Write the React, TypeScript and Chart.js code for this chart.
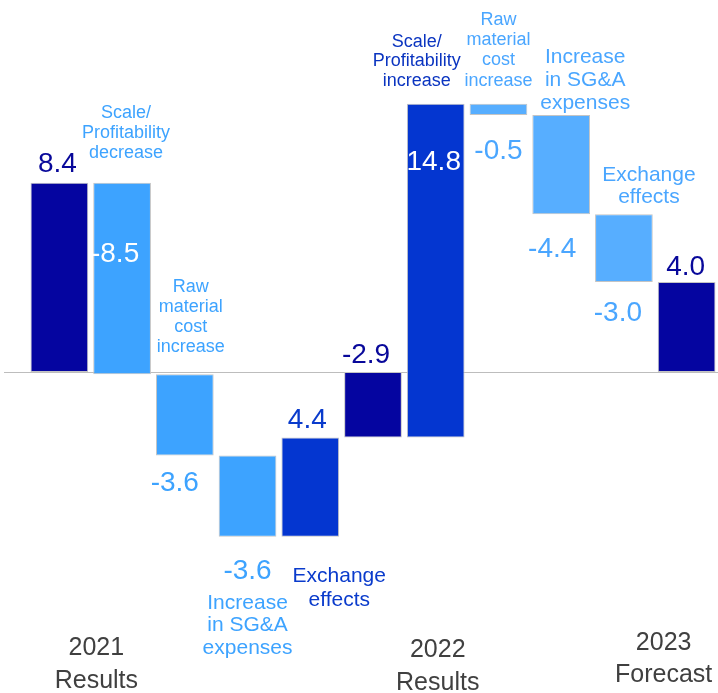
import React, { useEffect, useRef } from 'react';
import { Chart, registerables } from 'chart.js';

Chart.register(...registerables);

// ---- Data ----
const categories = [
  '2021 Results',
  'Scale/Profitability decrease',
  'Raw material cost increase',
  'Increase in SG&A expenses',
  'Exchange effects',
  '2022 Results',
  'Scale/Profitability increase',
  'Raw material cost increase',
  'Increase in SG&A expenses',
  'Exchange effects',
  '2023 Forecast',
];
const values = [8.4, -8.5, -3.6, -3.6, 4.4, -2.9, 14.8, -0.5, -4.4, -3.0, 4.0];
const isTotal = [true, false, false, false, false, true, false, false, false, false, true];
const valueLabels = ['8.4', '-8.5', '-3.6', '-3.6', '4.4', '-2.9', '14.8', '-0.5', '-4.4', '-3.0', '4.0'];
const annotationLines: string[][] = [
  [],
  ['Scale/', 'Profitability', 'decrease'],
  ['Raw', 'material', 'cost', 'increase'],
  ['Increase', 'in SG&A', 'expenses'],
  ['Exchange', 'effects'],
  [],
  ['Scale/', 'Profitability', 'increase'],
  ['Raw', 'material', 'cost', 'increase'],
  ['Increase', 'in SG&A', 'expenses'],
  ['Exchange', 'effects'],
  [],
];
const axisLabels = [
  ['2021', 'Results'],
  ['2022', 'Results'],
  ['2023', 'Forecast'],
];
const axisLabelIndex = [0, 6, 10];

function buildRanges(): number[][] {
  let running = 0;
  return values.map((v, i) => {
    if (isTotal[i]) {
      running = v;
      return [0, v];
    }
    const start = running;
    running = Math.round((running + v) * 100) / 100;
    return [start, running];
  });
}

// ---- Styles ----
const NAVY = '#0505A0';
const MID = '#0436D0';
const LIGHT1 = '#3DA3FF';
const LIGHT2 = '#57AEFF';
const FONT = '"Liberation Sans", Arial, Helvetica, sans-serif';

const barColors = [NAVY, LIGHT1, LIGHT1, LIGHT1, MID, NAVY, MID, LIGHT2, LIGHT2, LIGHT2, NAVY];

// value label layout: anchor edge, baseline offset, x offset, colour
const valueLayout = [
  { edge: 'top', dy: -11, dx: -2, color: '#08089A' },
  { edge: 'top', dy: 79, dx: -7, color: '#FFFFFF' },
  { edge: 'bottom', dy: 35, dx: -10, color: LIGHT1 },
  { edge: 'bottom', dy: 42, dx: 0, color: LIGHT1 },
  { edge: 'top', dy: -9, dx: -3, color: '#0A3BCC' },
  { edge: 'top', dy: -9, dx: -7, color: '#08089A' },
  { edge: 'top', dy: 66, dx: -2, color: '#FFFFFF' },
  { edge: 'bottom', dy: 44, dx: 0, color: '#4AA6FF' },
  { edge: 'bottom', dy: 43, dx: -9, color: '#4AA6FF' },
  { edge: 'bottom', dy: 39, dx: -6, color: '#4AA6FF' },
  { edge: 'top', dy: -7, dx: -1, color: '#08089A' },
];

// annotation layout: edge, offset of the line nearest the bar, line height, size, dx, colour
const annLayout: any[] = [
  null,
  { edge: 'top', dy: -30, lh: 20, size: 18, dx: 4, color: LIGHT1 },
  { edge: 'top', dy: -27, lh: 20, size: 18, dx: 6, color: LIGHT1 },
  { edge: 'bottom', dy: 66, lh: 22.5, size: 21, dx: 0, color: LIGHT1 },
  { edge: 'bottom', dy: 39, lh: 24, size: 21, dx: 29, color: '#0A3BCC' },
  null,
  { edge: 'top', dy: -23, lh: 19.5, size: 18, dx: -19, color: '#0A34C0' },
  { edge: 'top', dy: -23, lh: 20.3, size: 18, dx: 0, color: '#4AA6FF' },
  { edge: 'top', dy: -12, lh: 23, size: 21, dx: 24, color: '#4AA6FF' },
  { edge: 'top', dy: -17, lh: 22, size: 21, dx: 25, color: '#4AA6FF' },
  null,
];

const axisLayout = [
  { dx: 37, b1: -38, b2: -5 },
  { dx: 2, b1: -36, b2: -3 },
  { dx: -23, b1: -43, b2: -11 },
];

const textPlugin = {
  id: 'waterfallText',
  beforeDatasetsDraw(chart: any) {
    const { ctx, chartArea, scales } = chart;
    const y0 = Math.round(scales.y.getPixelForValue(0)) + 0.5;
    ctx.save();
    ctx.strokeStyle = '#BDBDBD';
    ctx.lineWidth = 1;
    ctx.beginPath();
    ctx.moveTo(chartArea.left - 24, y0);
    ctx.lineTo(chartArea.right, y0);
    ctx.stroke();
    ctx.restore();
  },
  afterDatasetsDraw(chart: any) {
    const { ctx, chartArea, scales } = chart;
    const meta = chart.getDatasetMeta(0);
    ctx.save();
    meta.data.forEach((bar: any, i: number) => {
      const top = Math.min(bar.y, bar.base);
      const bottom = Math.max(bar.y, bar.base);
      // value labels
      const vl = valueLayout[i];
      ctx.font = `28px ${FONT}`;
      ctx.fillStyle = vl.color;
      ctx.textAlign = 'center';
      ctx.textBaseline = 'alphabetic';
      const ref = vl.edge === 'top' ? top : bottom;
      ctx.fillText(valueLabels[i], bar.x + vl.dx, ref + vl.dy);
      // annotations
      const al = annLayout[i];
      const lines = annotationLines[i];
      if (al && lines.length) {
        ctx.font = `${al.size}px ${FONT}`;
        ctx.fillStyle = al.color;
        ctx.textBaseline = 'middle';
        if (al.edge === 'top') {
          const last = top + al.dy;
          lines.forEach((ln, k) => {
            ctx.fillText(ln, bar.x + al.dx, last - (lines.length - 1 - k) * al.lh);
          });
        } else {
          const first = bottom + al.dy;
          lines.forEach((ln, k) => {
            ctx.fillText(ln, bar.x + al.dx, first + k * al.lh);
          });
        }
      }
    });
    // category axis labels
    ctx.font = `25px ${FONT}`;
    ctx.fillStyle = '#404040';
    ctx.textAlign = 'center';
    ctx.textBaseline = 'alphabetic';
    axisLabels.forEach((lbl, j) => {
      const lay = axisLayout[j];
      const x = scales.x.getPixelForValue(axisLabelIndex[j]) + lay.dx;
      ctx.fillText(lbl[0], x, chartArea.bottom + lay.b1);
      ctx.fillText(lbl[1], x, chartArea.bottom + lay.b2);
    });
    ctx.restore();
  },
};

export default function App() {
  const canvasRef = useRef<HTMLCanvasElement | null>(null);

  useEffect(() => {
    if (!canvasRef.current) return;
    const chart = new Chart(canvasRef.current, {
      type: 'bar',
      data: {
        labels: categories,
        datasets: [
          {
            data: buildRanges() as any,
            backgroundColor: barColors,
            borderColor: '#C4C4C4',
            borderWidth: 1,
            borderSkipped: false,
            barPercentage: 0.92,
            categoryPercentage: 1,
          },
        ],
      },
      options: {
        responsive: false,
        animation: false,
        devicePixelRatio: 1,
        layout: { padding: { left: 28, right: 0, top: 0, bottom: 0 } },
        plugins: {
          legend: { display: false },
          tooltip: { enabled: false },
        },
        scales: {
          x: { display: false, offset: true },
          y: { display: false, min: -14.23, max: 16.5 },
        },
      },
      plugins: [textPlugin],
    });
    return () => chart.destroy();
  }, []);

  return (
    <div style={{ position: 'absolute', left: 0, top: 0, width: 718, height: 693, background: '#fff' }}>
      <canvas ref={canvasRef} width={718} height={693} style={{ display: 'block' }} />
    </div>
  );
}
